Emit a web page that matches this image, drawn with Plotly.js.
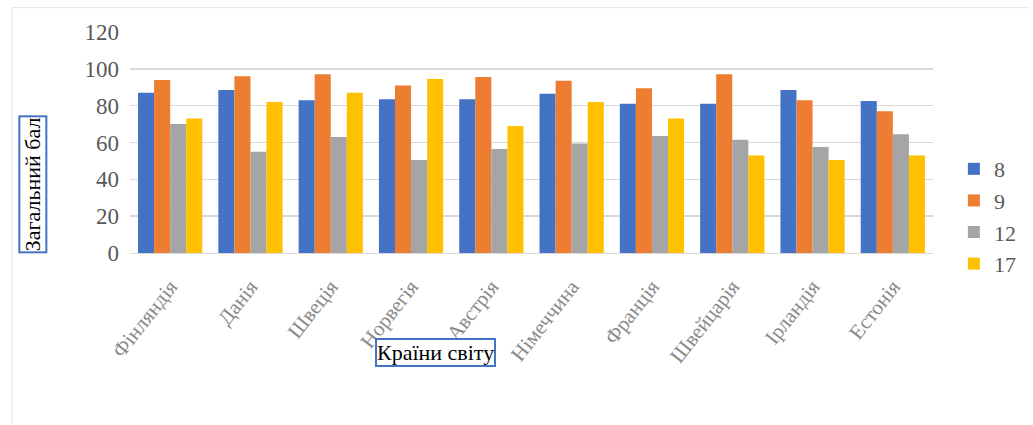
<!DOCTYPE html>
<html>
<head>
<meta charset="utf-8">
<script src="https://cdn.plot.ly/plotly-3.0.1.min.js"></script>
<style>html,body{margin:0;padding:0;background:#fff;}#chart{width:1033px;height:425px;}</style>
</head>
<body>
<div id="chart"></div>
<script>
const countries = ["Фінляндія","Данія","Швеція","Норвегія","Австрія","Німеччина","Франція","Швейцарія","Ірландія","Естонія"];
const seriesNames = ["8","9","12","17"];
const s8  = [87, 88.5, 83, 83.5, 83.5, 86.5, 81, 81, 88.5, 82.5];
const s9  = [94, 96, 97, 91, 95.5, 93.5, 89.5, 97, 83, 77];
const s12 = [70, 55, 63, 50.5, 56.5, 59.5, 63.5, 61.5, 57.5, 64.5];
const s17 = [73, 82, 87, 94.5, 69, 82, 73, 53, 50.5, 53];
const yTicks = [0, 20, 40, 60, 80, 100, 120];
const colors = ["#4472C4","#ED7D31","#A5A5A5","#FFC000"];
const allSeries = [s8, s9, s12, s17];

const serif = "'Liberation Serif', 'DejaVu Serif', serif";
const data = allSeries.map((vals, i) => ({
  type: "bar",
  name: seriesNames[i],
  x: countries,
  y: vals,
  marker: {color: colors[i]}
}));

const layout = {
  width: 1033, height: 425,
  margin: {l: 130, r: 89, t: 32, b: 172},
  paper_bgcolor: "#ffffff",
  plot_bgcolor: "#ffffff",
  font: {family: serif},
  barmode: "group",
  bargap: 0.2,
  bargroupgap: 0,
  showlegend: true,
  legend: {
    x: 1.026, xanchor: "left", y: 0.475, yanchor: "top",
    font: {family: serif, size: 22, color: "#595959"},
    tracegroupgap: 0, itemwidth: 30,
    bgcolor: "rgba(0,0,0,0)"
  },
  xaxis: {
    tickangle: -52,
    tickfont: {family: serif, size: 21, color: "#8a8a8a"},
    showgrid: false,
    showline: true, linecolor: "#d9d9d9", linewidth: 1,
    ticks: "",
    ticklabelstandoff: 12
  },
  yaxis: {
    range: [0, 120],
    tickvals: yTicks,
    ticktext: yTicks.map(String),
    tickfont: {family: serif, size: 23, color: "#595959"},
    showgrid: true, gridcolor: "#d9d9d9", gridwidth: 1.5,
    zeroline: false,
    ticks: "", ticklen: 0,
    ticklabelstandoff: 10,
    automargin: false
  },
  shapes: [
    {type: "line", xref: "paper", yref: "paper", x0: -0.147, x1: -0.147, y0: -0.79, y1: 1.11,
     line: {color: "#e6e6e6", width: 1}},
    {type: "line", xref: "paper", yref: "paper", x0: -0.147, x1: 1.12, y0: 1.11, y1: 1.11,
     line: {color: "#e6e6e6", width: 1}}
  ],
  annotations: [
    {text: "Загальний бал", xref: "paper", yref: "paper", x: -0.121, y: 0.31,
     textangle: -90, showarrow: false, xanchor: "center", yanchor: "middle",
     font: {family: serif, size: 22, color: "#000"},
     bordercolor: "#4472C4", borderwidth: 2, borderpad: 0, bgcolor: "#fff"},
    {text: "Країни світу", xref: "paper", yref: "paper", x: 0.38, y: -0.45,
     showarrow: false, xanchor: "center", yanchor: "middle",
     font: {family: serif, size: 22, color: "#000"},
     bordercolor: "#4472C4", borderwidth: 2, borderpad: 0, bgcolor: "#fff"}
  ]
};

Plotly.newPlot("chart", data, layout, {displayModeBar: false, staticPlot: true});
</script>
</body>
</html>
